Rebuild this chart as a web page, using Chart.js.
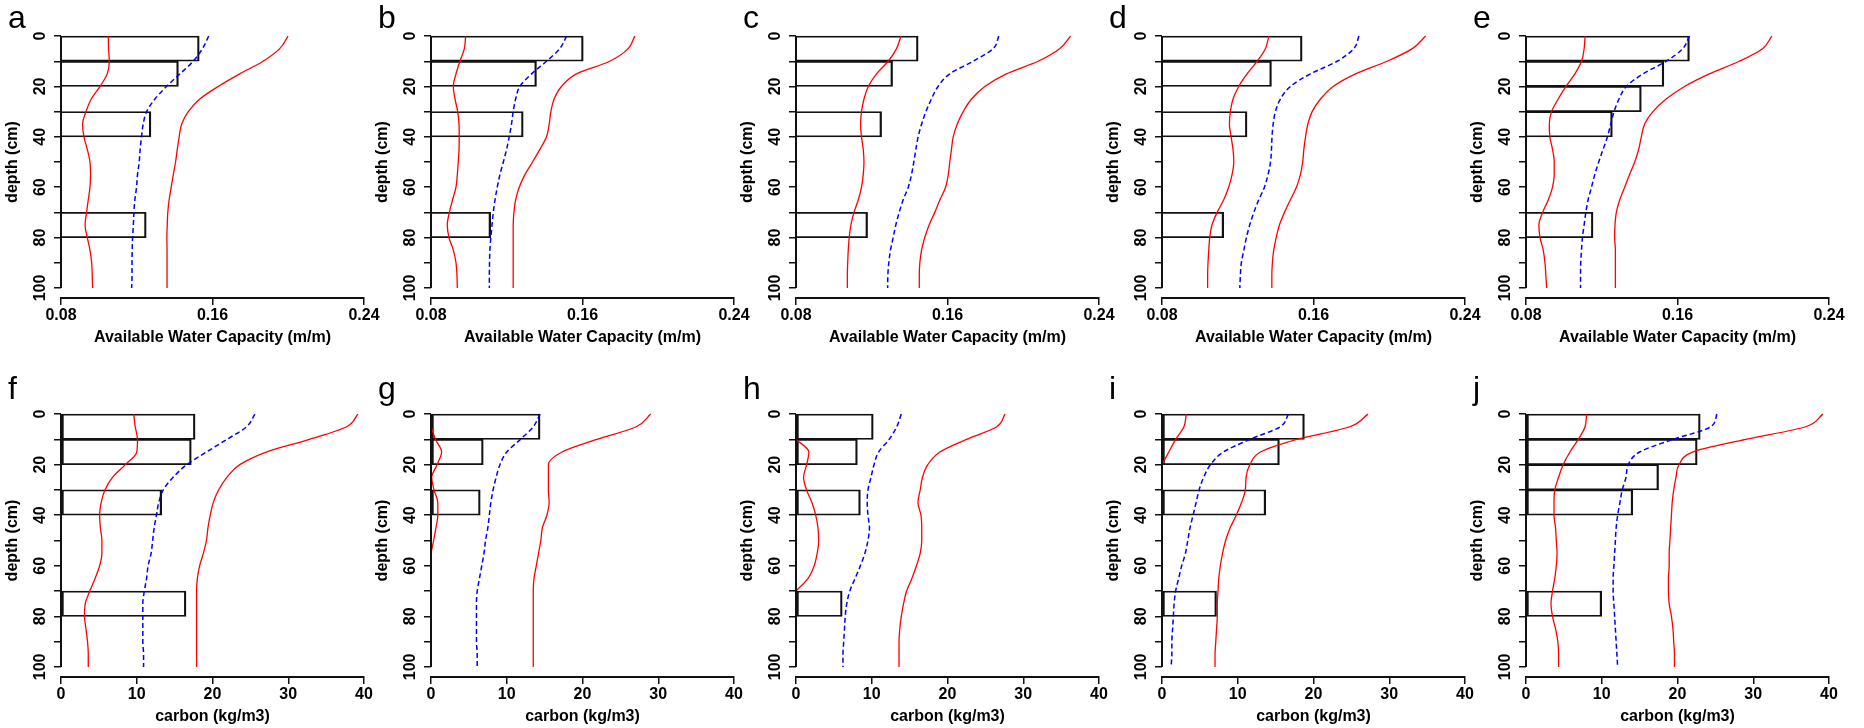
<!DOCTYPE html>
<html>
<head>
<meta charset="utf-8">
<script src="https://cdn.jsdelivr.net/npm/chart.js@4.4.1/dist/chart.umd.min.js"></script>
<style>
  body { margin: 0; background: #fff; width: 1864px; height: 728px; overflow: hidden; position: relative; }
  canvas { position: absolute; }
</style>
</head>
<body>
<script>
// depth grid (cm) the profile curves are read at
const depths = [0, 5, 10, 15, 20, 25, 30, 35, 40, 45, 50, 55, 60, 65, 70, 75, 80, 85, 90, 95, 100];
const depthTicks = [0, 10, 20, 30, 40, 50, 60, 70, 80, 90, 100];
const awcTicks = [0.08, 0.16, 0.24];
const carbonTicks = [0, 10, 20, 30, 40];
const letters = ["a", "b", "c", "d", "e", "f", "g", "h", "i", "j"];

// observed horizons: top depth of each 10 cm layer + measured value
const tops4 = [0, 10, 30, 70];
const tops5 = [0, 10, 20, 30, 70];
const tops3 = [0, 10, 30];

// --- available water capacity (m/m) ---
const aBars = [0.153, 0.142, 0.1275, 0.125];
const aLow = [0.105, 0.1051, 0.1055, 0.1044, 0.1006, 0.096, 0.0932, 0.0914, 0.0921, 0.0939, 0.0953, 0.0956, 0.0953, 0.0944, 0.0935, 0.0927, 0.0939, 0.0953, 0.0962, 0.0965, 0.0967];
const aMean = [0.158, 0.1547, 0.1498, 0.1428, 0.1357, 0.1296, 0.1252, 0.1234, 0.1225, 0.1218, 0.1213, 0.1204, 0.1199, 0.119, 0.1185, 0.1182, 0.1178, 0.1176, 0.1175, 0.1175, 0.1173];
const aHigh = [0.1999, 0.1955, 0.1867, 0.1744, 0.163, 0.1533, 0.1472, 0.1437, 0.1424, 0.1414, 0.1405, 0.1393, 0.1382, 0.1371, 0.1364, 0.1361, 0.1359, 0.136, 0.136, 0.136, 0.136];

const bBars = [0.1604, 0.1357, 0.1287, 0.1115];
const bLow = [0.0983, 0.0976, 0.0953, 0.0932, 0.0918, 0.0927, 0.0941, 0.0948, 0.0949, 0.0948, 0.0944, 0.0939, 0.0932, 0.0914, 0.0897, 0.0886, 0.0895, 0.0918, 0.0932, 0.0937, 0.0939];
const bMean = [0.1516, 0.148, 0.141, 0.1331, 0.1269, 0.1247, 0.1234, 0.1225, 0.1213, 0.1199, 0.1182, 0.1164, 0.115, 0.1138, 0.1129, 0.1122, 0.1116, 0.1111, 0.1109, 0.1108, 0.1108];
const bHigh = [0.1876, 0.1841, 0.1744, 0.1568, 0.1489, 0.145, 0.1433, 0.1424, 0.141, 0.1375, 0.1336, 0.1296, 0.1266, 0.1247, 0.1238, 0.1234, 0.1234, 0.1234, 0.1234, 0.1234, 0.1234];

const cBars = [0.1445, 0.131, 0.1252, 0.1178];
const cLow = [0.1354, 0.1331, 0.1287, 0.1225, 0.1182, 0.1159, 0.1146, 0.1141, 0.1146, 0.1155, 0.1159, 0.1155, 0.1146, 0.1129, 0.1106, 0.109, 0.1081, 0.1076, 0.1073, 0.1071, 0.1071];
const cMean = [0.1871, 0.1841, 0.1735, 0.1612, 0.155, 0.1515, 0.1486, 0.1463, 0.1445, 0.1433, 0.1422, 0.141, 0.1393, 0.1366, 0.1345, 0.1327, 0.1313, 0.1299, 0.129, 0.1285, 0.1284];
const cHigh = [0.225, 0.2192, 0.2078, 0.1911, 0.1797, 0.1727, 0.1683, 0.1651, 0.163, 0.1621, 0.1612, 0.1604, 0.159, 0.156, 0.1533, 0.1503, 0.148, 0.1463, 0.1454, 0.1451, 0.1451];

const dBars = [0.154, 0.1378, 0.1249, 0.1126];
const dLow = [0.1364, 0.1346, 0.1302, 0.1249, 0.1205, 0.1175, 0.1161, 0.1156, 0.1165, 0.1175, 0.1179, 0.117, 0.1152, 0.1126, 0.1091, 0.1064, 0.1052, 0.1047, 0.1043, 0.1041, 0.1041];
const dMean = [0.184, 0.1813, 0.1725, 0.1584, 0.1478, 0.1425, 0.1399, 0.1387, 0.1381, 0.1378, 0.1373, 0.136, 0.1341, 0.1311, 0.1285, 0.1263, 0.1246, 0.1232, 0.1219, 0.1214, 0.1211];
const dHigh = [0.2192, 0.2122, 0.1989, 0.1822, 0.1704, 0.1637, 0.1593, 0.157, 0.1558, 0.1549, 0.1543, 0.1531, 0.151, 0.1478, 0.1447, 0.142, 0.1403, 0.139, 0.1383, 0.138, 0.138];

const eBars = [0.1663, 0.1528, 0.1409, 0.1256, 0.1154];
const eLow = [0.1112, 0.1107, 0.1093, 0.1058, 0.1011, 0.097, 0.0935, 0.0923, 0.0926, 0.094, 0.0949, 0.0949, 0.094, 0.0918, 0.0888, 0.0868, 0.0874, 0.0891, 0.09, 0.0905, 0.0909];
const eMean = [0.1663, 0.1628, 0.154, 0.1418, 0.133, 0.1291, 0.1265, 0.1247, 0.123, 0.1207, 0.1184, 0.1163, 0.1146, 0.1128, 0.1116, 0.1107, 0.1098, 0.1093, 0.1089, 0.1088, 0.1088];
const eHigh = [0.2098, 0.2049, 0.1926, 0.1768, 0.1637, 0.154, 0.147, 0.1426, 0.1409, 0.1395, 0.1374, 0.1347, 0.1321, 0.1295, 0.1277, 0.127, 0.1268, 0.1272, 0.1272, 0.1272, 0.1272];

// --- carbon (kg/m3) ---
const fBars = [17.7, 17.2, 13.3, 16.5];
const fLow = [9.6, 9.8, 10.1, 10.0, 8.5, 6.8, 5.8, 5.3, 5.1, 5.2, 5.4, 5.4, 5.1, 4.5, 3.8, 3.2, 3.1, 3.3, 3.5, 3.6, 3.6];
const fMean = [25.6, 24.5, 21.9, 19.2, 16.6, 14.8, 13.5, 12.9, 12.6, 12.3, 12.1, 11.9, 11.5, 11.3, 11.0, 10.8, 10.8, 10.8, 10.8, 10.9, 10.9];
const fHigh = [39.2, 37.7, 32.8, 27.1, 23.6, 21.9, 20.8, 20.1, 19.7, 19.4, 19.2, 18.8, 18.3, 18.0, 17.9, 17.9, 17.9, 17.9, 17.9, 17.9, 17.9];

const gBars = [14.4, 6.9, 6.5];
const gLow = [null, 0, 0.6, 1.4, 0.8, 0.1, 0.4, 0.9, 0.9, 0.65, 0.35, 0, null, null, null, null, null, null, null, null, null];
const gMean = [14.4, 13.5, 11.8, 10.0, 9.1, 8.6, 8.2, 7.9, 7.7, 7.5, 7.2, 7.0, 6.7, 6.4, 6.1, 6.0, 6.0, 6.0, 6.0, 6.1, 6.1];
const gHigh = [29.0, 27.1, 21.9, 17.3, 15.5, 15.5, 15.5, 15.6, 15.3, 14.7, 14.5, 14.2, 13.9, 13.6, 13.5, 13.5, 13.5, 13.5, 13.5, 13.5, 13.5];

const hBars = [10.2, 8.1, 8.5, 6.1];
const hLow = [null, null, 0, 1.7, 1.4, 1.0, 1.4, 2.1, 2.6, 2.9, 3.0, 2.8, 2.4, 1.6, 0, null, null, null, null, null, null];
const hMean = [13.9, 13.3, 12.3, 10.9, 10.3, 9.9, 9.5, 9.4, 9.5, 9.7, 9.5, 9.1, 8.5, 7.8, 7.1, 6.7, 6.5, 6.4, 6.3, 6.2, 6.2];
const hHigh = [27.6, 26.5, 22.5, 19.0, 17.4, 16.7, 16.4, 16.1, 16.5, 16.6, 16.6, 16.4, 15.9, 15.3, 14.6, 14.2, 13.9, 13.7, 13.6, 13.6, 13.6];

const iBars = [18.8, 15.5, 13.7, 7.2];
const iLow = [3.2, 2.9, 1.8, 0.9, 0, null, null, null, null, null, null, null, null, null, null, null, null, null, null, null, null];
const iMean = [16.7, 15.6, 11.6, 8.1, 6.4, 5.5, 4.9, 4.5, 4.1, 3.7, 3.4, 3.1, 2.6, 2.2, 1.8, 1.6, 1.5, 1.4, 1.3, 1.3, 1.2];
const iHigh = [27.2, 24.8, 17.8, 13.0, 11.6, 11.1, 11.0, 10.5, 9.8, 9.0, 8.4, 8.0, 7.7, 7.5, 7.4, 7.3, 7.3, 7.2, 7.1, 7.0, 7.0];

const jBars = [23.0, 22.6, 17.5, 14.1, 10.0];
const jLow = [8.0, 7.8, 6.9, 5.8, 4.9, 4.3, 3.8, 3.7, 3.7, 3.9, 4.0, 4.1, 4.0, 3.8, 3.5, 3.3, 3.5, 3.9, 4.2, 4.3, 4.3];
const jMean = [25.2, 24.4, 19.4, 15.0, 13.5, 13.2, 12.7, 12.4, 12.1, 11.9, 11.8, 11.7, 11.6, 11.5, 11.5, 11.6, 11.7, 11.8, 11.9, 12.0, 12.1];
const jHigh = [39.2, 36.9, 29.0, 22.0, 20.2, 19.8, 19.5, 19.3, 19.2, 19.1, 19.0, 18.9, 18.9, 18.8, 18.8, 18.9, 19.2, 19.4, 19.5, 19.6, 19.6];

const panels = [
  [tops4, aBars, aLow, aMean, aHigh],
  [tops4, bBars, bLow, bMean, bHigh],
  [tops4, cBars, cLow, cMean, cHigh],
  [tops4, dBars, dLow, dMean, dHigh],
  [tops5, eBars, eLow, eMean, eHigh],
  [tops4, fBars, fLow, fMean, fHigh],
  [tops3, gBars, gLow, gMean, gHigh],
  [tops4, hBars, hLow, hMean, hHigh],
  [tops4, iBars, iLow, iMean, iHigh],
  [tops5, jBars, jLow, jMean, jHigh],
];

// layout
const axisX = [61, 431, 796, 1162, 1526];
const FAM = '"Liberation Sans", Arial, Helvetica, sans-serif';
const INK = "#111";

// R style y axis (only spans 0..100) and the panel letter
const rAxis = {
  id: "rAxis",
  afterDraw(chart, args, opts) {
    const { ctx, chartArea, scales } = chart;
    const y = scales.y;
    ctx.save();
    ctx.strokeStyle = INK;
    ctx.lineWidth = 2;
    ctx.beginPath();
    ctx.moveTo(chartArea.left, y.getPixelForValue(depthTicks[0]));
    ctx.lineTo(chartArea.left, y.getPixelForValue(depthTicks[depthTicks.length - 1]));
    ctx.stroke();
    ctx.fillStyle = "#000";
    ctx.font = "32px " + FAM;
    ctx.textBaseline = "alphabetic";
    ctx.fillText(opts.letter, chartArea.left - 53, opts.base);
    ctx.restore();
  },
};

function profile(vals) {
  return depths
    .map((d, i) => ({ x: vals[i], y: d }))
    .filter((p) => p.x !== null);
}

panels.forEach((p, k) => {
  const [tops, bars, low, mean, high] = p;
  const row = k < 5 ? 0 : 1;
  const col = k % 5;
  const xt = row ? carbonTicks : awcTicks;

  const canvas = document.createElement("canvas");
  canvas.width = 400;
  canvas.height = 364;
  canvas.style.left = axisX[col] - 61 + "px";
  canvas.style.top = row * 364 + "px";
  document.body.appendChild(canvas);

  const tickFont = { family: FAM, size: 16, weight: "bold" };

  new Chart(canvas, {
    type: "bar",
    data: {
      datasets: [
        {
          type: "bar",
          data: tops.map((t, i) => ({ x: bars[i], y: t + 5 })),
          borderColor: INK,
          // top/bottom thinner so stacked layers share a single-looking edge
          borderWidth: { top: 1.1, bottom: 1.1, left: 1.6, right: 1.6 },
          backgroundColor: "rgba(255,255,255,0)",
          borderSkipped: false,
          barPercentage: 1,
          categoryPercentage: 1,
          order: 2,
        },
        {
          type: "line",
          data: profile(low),
          borderColor: "#ff0000",
          borderWidth: 1.3,
          pointRadius: 0,
          cubicInterpolationMode: "monotone",
          order: 1,
        },
        {
          type: "line",
          data: profile(mean),
          borderColor: "#0000ff",
          borderWidth: 1.5,
          borderDash: [5, 3],
          pointRadius: 0,
          cubicInterpolationMode: "monotone",
          order: 1,
        },
        {
          type: "line",
          data: profile(high),
          borderColor: "#ff0000",
          borderWidth: 1.3,
          pointRadius: 0,
          cubicInterpolationMode: "monotone",
          order: 1,
        },
      ],
    },
    options: {
      indexAxis: "y",
      responsive: false,
      animation: false,
      events: [],
      layout: { padding: { left: 3, right: 36, top: row ? 40 : 26, bottom: row ? 2 : 17 } },
      plugins: {
        legend: { display: false },
        tooltip: { enabled: false },
        rAxis: { letter: letters[k], base: row ? 35 : 28 },
      },
      scales: {
        x: {
          type: "linear",
          min: xt[0],
          max: xt[xt.length - 1],
          beginAtZero: false,
          offset: false,
          afterBuildTicks: (s) => { s.ticks = xt.map((v) => ({ value: v })); },
          afterFit: (s) => { s.height = 49; },
          grid: { drawOnChartArea: false, offset: false, color: INK, lineWidth: 1.5, tickLength: 7 },
          border: { display: true, color: INK, width: 2 },
          ticks: {
            color: "#000",
            font: tickFont,
            padding: 1,
            maxRotation: 0,
            autoSkip: false,
            callback: (v) => (row ? String(v) : v.toFixed(2)),
          },
          title: {
            display: true,
            text: row ? "carbon (kg/m3)" : "Available Water Capacity (m/m)",
            color: "#000",
            font: tickFont,
            padding: 0,
          },
        },
        y: {
          type: "linear",
          reverse: true,
          min: -4,
          max: 104,
          offset: false,
          afterBuildTicks: (s) => { s.ticks = depthTicks.map((v) => ({ value: v })); },
          afterFit: (s) => { s.width = 58; },
          grid: { drawOnChartArea: false, offset: false, color: INK, lineWidth: 1.5, tickLength: 7 },
          border: { display: false },
          ticks: {
            color: "#000",
            font: tickFont,
            padding: 0,
            minRotation: 90,
            maxRotation: 90,
            crossAlign: "center",
            autoSkip: false,
            callback: (v) => (v % 20 === 0 ? String(v) : ""),
          },
          title: {
            display: true,
            text: "depth (cm)",
            color: "#000",
            font: tickFont,
            padding: 0,
          },
        },
      },
    },
    plugins: [rAxis],
  });
});
</script>
</body>
</html>
